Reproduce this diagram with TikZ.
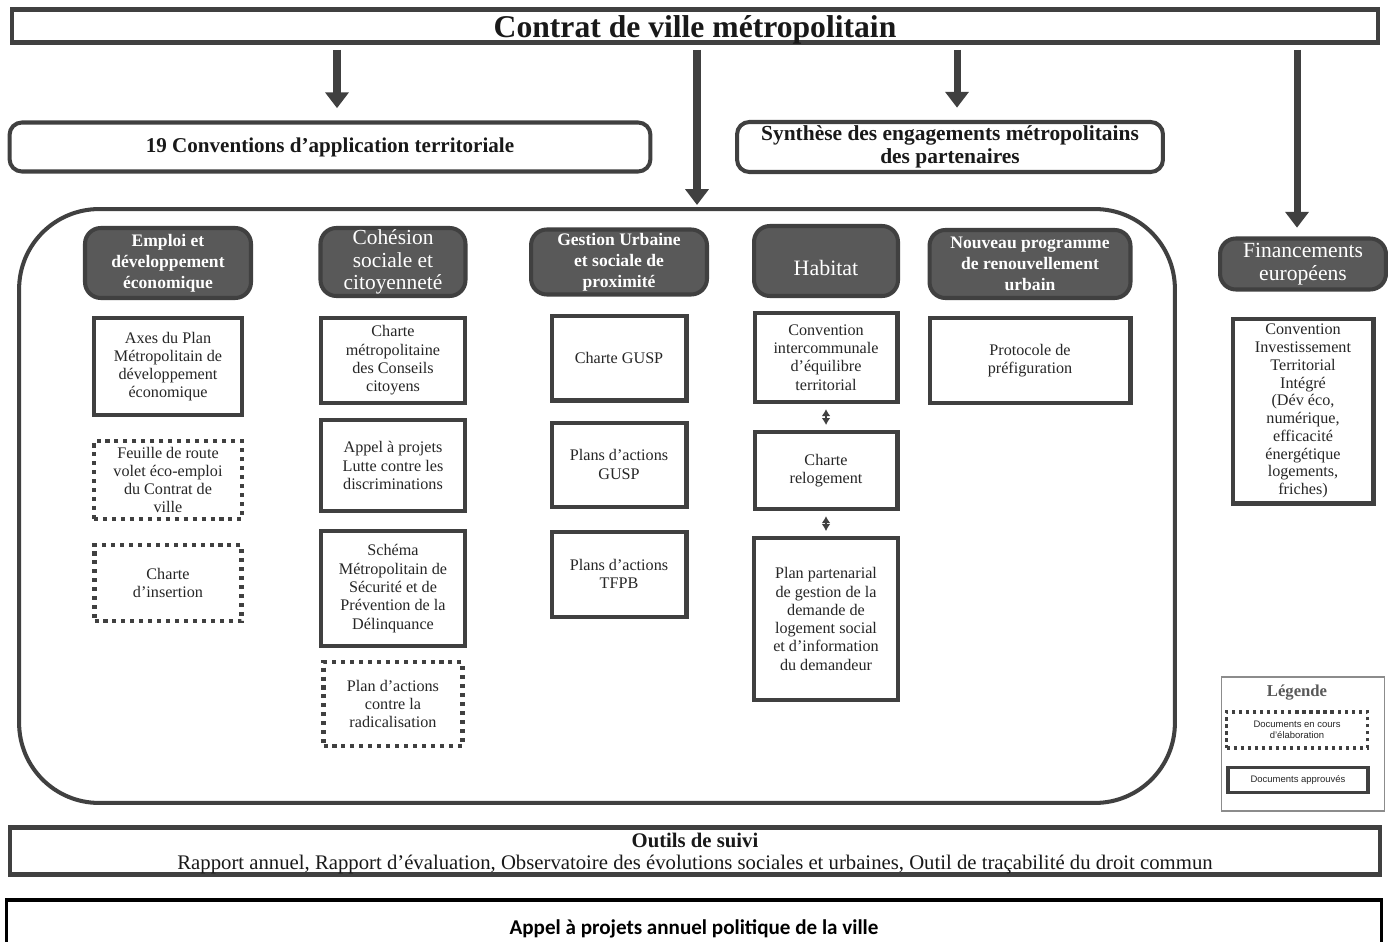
\documentclass[tikz,border=0pt]{standalone}
\usepackage{fontspec}
\setmainfont{Liberation Serif}
\newfontfamily\carlito{Carlito}
\newfontfamily\arial{Liberation Sans}
\usepackage{xcolor}
\usepackage{tikz}
\usetikzlibrary{positioning}
\usetikzlibrary{arrows.meta}
\definecolor{boxgray}{RGB}{64,64,64}
\definecolor{themegray}{RGB}{89,89,89}
\tikzset{edge/.style = {-{Triangle[width=13pt,length=9pt]}, line width=4pt, draw=boxgray}}
\tikzset{duo/.style = {{Latex[length=4pt,width=5pt]}-{Latex[length=4pt,width=5pt]}, line width=1.2pt, draw=boxgray, shorten <=0.1cm, shorten >=0.1cm}}

\begin{document}
\begin{tikzpicture}[x=0.02cm, y=-0.02cm, node distance=0.4cm,
  doc/.style={draw=boxgray, line width=2.3pt, fill=white, align=center, inner sep=0pt, text=black!85, minimum width=2.88cm, font=\fontsize{9.2}{10.4}\selectfont},
  wip/.style={doc, dash pattern=on 2.3pt off 2.8pt},
  theme/.style={draw=boxgray, fill=themegray, line width=2.3pt, rounded corners=9pt, text=white, align=center, inner sep=0pt, font=\fontsize{10}{12}\selectfont\bfseries},
  frame/.style={draw=boxgray, line width=2.3pt, fill=white, align=center, inner sep=0pt, text=black!90}]

\useasboundingbox (0,0) rectangle (1388,942);

% haut
\node[frame, minimum width=27.32cm, minimum height=0.66cm, font=\fontsize{18}{20}\selectfont\bfseries] (titre) at (695,26) {\raisebox{-2pt}[\height][\depth]{Contrat de ville métropolitain}};
\node[frame, rounded corners=7pt, minimum width=12.82cm, minimum height=0.98cm, font=\fontsize{12}{13}\selectfont\bfseries] (conv) at (330,147) {19 Conventions d’application territoriale};
\node[frame, rounded corners=7pt, minimum width=8.52cm, minimum height=1.0cm, font=\fontsize{12.2}{12.8}\selectfont\bfseries] (synth) at (950,147) {Synthèse des engagements métropolitains\\des partenaires};

% perimetre
\node[frame, rounded corners=1.6cm, minimum width=23.12cm, minimum height=11.88cm] (perim) at (597,506) {};
\coordinate (entree) at (697,205);

% themes
\node[theme, minimum width=3.32cm, minimum height=1.40cm] (emploi) at (168,263) {Emploi et\\développement\\économique};
\node[theme, minimum width=2.90cm, minimum height=1.36cm, font=\fontsize{12.2}{13}\selectfont] (cohesion) at (393,262) {Cohésion\\sociale et\\citoyenneté};
\node[theme, minimum width=3.52cm, minimum height=1.30cm] (gusp) at (619,262) {Gestion Urbaine\\et sociale de\\proximité};
\node[theme, minimum width=2.88cm, minimum height=1.40cm, font=\fontsize{12.5}{13}\selectfont] (habitat) at (826,261) {\raisebox{-4pt}[\height][\depth]{Habitat}};
\node[theme, minimum width=4.02cm, minimum height=1.36cm] (npnru) at (1030,264) {Nouveau programme\\de renouvellement\\urbain};
\node[theme, minimum width=3.32cm, minimum height=1.02cm, font=\fontsize{12.3}{13}\selectfont] (europe) at (1303,264) {Financements\\européens};

% emploi
\node[doc, minimum width=2.96cm, minimum height=1.94cm] (axes) [below=0.32cm of emploi] {Axes du Plan\\Métropolitain de\\développement\\économique};
\node[wip, minimum width=2.96cm, minimum height=1.56cm] (feuille) [below=0.44cm of axes] {Feuille de route\\volet éco-emploi\\du Contrat de\\ville};
\node[wip, minimum width=2.94cm, minimum height=1.52cm] (insertion) [below=0.44cm of feuille] {Charte\\d’insertion};

% cohesion
\node[doc, minimum height=1.70cm] (conseils) [below=0.36cm of cohesion] {Charte\\métropolitaine\\des Conseils\\citoyens};
\node[doc, minimum height=1.82cm] (discrim) [below=0.26cm of conseils] {Appel à projets\\Lutte contre les\\discriminations};
\node[doc, minimum height=2.30cm] (securite) [below=0.32cm of discrim] {Schéma\\Métropolitain de\\Sécurité et de\\Prévention de la\\Délinquance};
\node[wip, minimum width=2.78cm, minimum height=1.68cm] (radical) [below=0.24cm of securite] {Plan d’actions\\contre la\\radicalisation};

% gusp
\node[doc, minimum width=2.70cm, minimum height=1.70cm] (charteg) [below=0.34cm of gusp] {Charte GUSP};
\node[doc, minimum width=2.70cm, minimum height=1.68cm] (plansg) [below=0.36cm of charteg] {Plans d’actions\\GUSP};
\node[doc, minimum width=2.70cm, minimum height=1.70cm] (tfpb) [below=0.42cm of plansg] {Plans d’actions\\TFPB};

% habitat
\node[doc, minimum width=2.86cm, minimum height=1.78cm] (cil) [below=0.26cm of habitat] {Convention\\intercommunale\\d’équilibre\\territorial};
\node[doc, minimum width=2.86cm, minimum height=1.54cm] (reloge) [below=0.52cm of cil] {Charte\\relogement};
\node[doc, minimum height=3.24cm] (ppgd) [below=0.50cm of reloge] {Plan partenarial\\de gestion de la\\demande de\\logement social\\et d’information\\du demandeur};

% npnru
\node[doc, minimum width=4.02cm, minimum height=1.70cm] (protocole) [below=0.32cm of npnru] {Protocole de\\préfiguration};

% europe
\node[doc, minimum width=2.82cm, minimum height=3.70cm, font=\fontsize{9.2}{10.1}\selectfont] (iti) [below=0.50cm of europe] {Convention\\Investissement\\Territorial\\Intégré\\(Dév éco,\\numérique,\\efficacité\\énergétique\\logements,\\friches)};

% legende
\node[draw=black!45, line width=0.6pt, minimum width=3.26cm, minimum height=2.68cm, inner sep=0pt] (legende) at (1303,744) {};
\node[text=themegray, font=\fontsize{9.5}{10}\selectfont\bfseries, inner sep=0pt] (legtitre) at (1297,693) {Légende};
\node[wip, line width=1.8pt, dash pattern=on 1.8pt off 2.2pt, minimum width=2.82cm, minimum height=0.72cm, font=\arial\fontsize{5.4}{6}\selectfont] (legwip) at (1297,730) {Documents en cours\\d’élaboration};
\node[doc, line width=1.8pt, minimum width=2.80cm, minimum height=0.50cm, font=\arial\fontsize{5.4}{6}\selectfont] (legdoc) at (1298,780) {Documents approuvés};

% bas
\node[frame, minimum width=27.40cm, minimum height=0.94cm] (suivi) at (695,851) {};
\node[align=center, inner sep=0pt, text=black!90, font=\fontsize{11.8}{12.4}\selectfont] (suivitexte) at ([yshift=-1.5pt]suivi.center) {\textbf{Outils de suivi}\\Rapport annuel, Rapport d’évaluation, Observatoire des évolutions sociales et urbaines, Outil de traçabilité du droit commun};
\node[draw=black, line width=2pt, fill=white, inner sep=0pt, minimum width=27.50cm, minimum height=1.04cm, font=\carlito\fontsize{12}{13}\selectfont\bfseries] (appel) at (694,926) {\raisebox{-1.5pt}[\height][\depth]{Appel à projets annuel politique de la ville}};

% fleches
\path (titre.south -| 337,0) edge[edge, shorten <=3pt, shorten >=7pt] (conv.north -| 337,0);
\path (titre.south -| entree) edge[edge, shorten <=3pt] (entree);
\path (titre.south -| 957,0) edge[edge, shorten <=3pt, shorten >=7pt] (synth.north -| 957,0);
\path (titre.south -| 1297,0) edge[edge, shorten <=3pt, shorten >=5pt] (europe.north -| 1297,0);
\path (cil) edge[duo] (reloge);
\path (reloge) edge[duo] (ppgd);
\end{tikzpicture}
\end{document}
